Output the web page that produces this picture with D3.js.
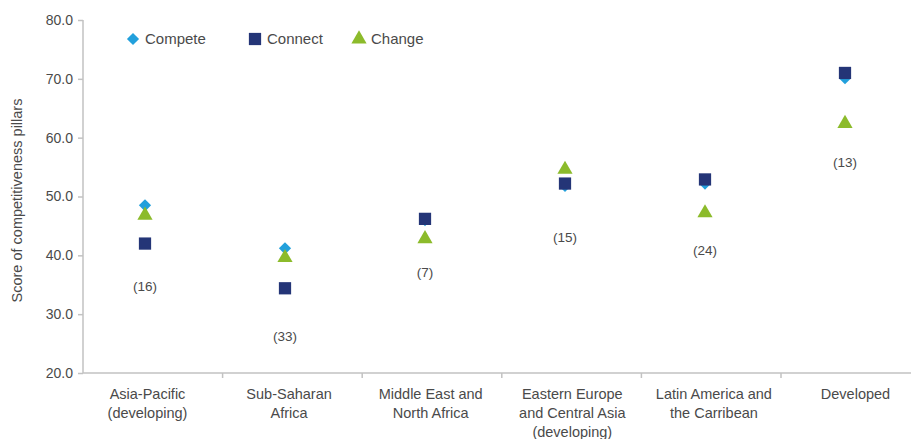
<!DOCTYPE html>
<html>
<head>
<meta charset="utf-8">
<script src="https://cdn.jsdelivr.net/npm/d3@7"></script>
<style>
  body { margin: 0; background: #fff; }
  svg text { font-family: "Liberation Sans", Arial, sans-serif; }
</style>
</head>
<body>
<div id="vis"></div>
<script>
// region data
const categories = [
  ["Asia-Pacific", "(developing)"],
  ["Sub-Saharan", "Africa"],
  ["Middle East and", "North Africa"],
  ["Eastern Europe", "and Central Asia", "(developing)"],
  ["Latin America and", "the Carribean"],
  ["Developed"]
]
const compete = [48.5, 41.2, 46.0, 51.8, 52.2, 70.1]
const connect = [42.0, 34.4, 46.2, 52.2, 52.9, 71.0]
const change = [46.8, 39.6, 42.8, 54.6, 47.2, 62.4]
const counts = ["(16)", "(33)", "(7)", "(15)", "(24)", "(13)"]
const countPos = [34.7, 26.3, 37.2, 43.1, 40.9, 55.9]
const yTicks = [20, 30, 40, 50, 60, 70, 80]

const W = 911, H = 439
const margin = { left: 83, top: 20, bottom: 66 }

const svg = d3.select("#vis").append("svg")
  .attr("width", W)
  .attr("height", H)

const keys = categories.map((d, i) => i)

const y = d3.scaleLinear().domain([20, 80]).range([373, 20])
const xBand = d3.scaleBand().domain(keys).range([83, 83 + 6 * 139.6])
const xMark = d3.scalePoint().domain(keys).range([145, 845])
const xLab = d3.scalePoint().domain(keys).range([147.5, 855.5])

const axisCol = "#c2c2c2"
const textCol = "#4a4a4a"

// y axis
const yAxis = svg.append("g")
  .attr("transform", `translate(${margin.left},0)`)
  .call(d3.axisLeft(y).tickValues(yTicks).tickFormat(d3.format(".1f")).tickSize(5).tickPadding(5))
yAxis.selectAll("path, line").attr("stroke", axisCol).attr("stroke-width", 1.5)
yAxis.select(".domain").attr("d", `M0,${y(80)}V${y(20)}`)
yAxis.selectAll("text")
  .attr("fill", textCol)
  .style("font-size", "14px")

// x axis (ticks at band edges)
const xg = svg.append("g").attr("transform", `translate(0,${y(20)})`)
xg.append("line")
  .attr("x1", 83).attr("x2", W)
  .attr("stroke", axisCol).attr("stroke-width", 1.5)
xg.selectAll("line.tick")
  .data(keys.slice(1))
  .enter().append("line")
  .attr("class", "tick")
  .attr("x1", d => xBand(d)).attr("x2", d => xBand(d))
  .attr("y1", 0).attr("y2", 5)
  .attr("stroke", axisCol).attr("stroke-width", 1.5)

const labs = xg.selectAll("text.cat")
  .data(keys)
  .enter().append("text")
  .attr("class", "cat")
  .attr("text-anchor", "middle")
  .attr("fill", textCol)
  .style("font-size", "14.5px")
labs.each(function(d) {
  const t = d3.select(this)
  categories[d].forEach((line, j) => {
    t.append("tspan")
      .attr("x", xLab(d))
      .attr("y", 26 + j * 19)
      .text(line)
  })
})

// y axis title
svg.append("text")
  .attr("transform", `translate(22,${y(50) + 4}) rotate(-90)`)
  .attr("text-anchor", "middle")
  .attr("fill", textCol)
  .style("font-size", "14.5px")
  .text("Score of competitiveness pillars")

// markers
const colCompete = "#22a0dc"
const colConnect = "#243577"
const colChange = "#8cbb2b"

const sym = {
  compete: d3.symbol().type(d3.symbolDiamond2).size(95),
  connect: d3.symbol().type(d3.symbolSquare).size(150),
  change: d3.symbol().type(d3.symbolTriangle).size(100)
}

function drawSeries(vals, path, color) {
  svg.append("g").selectAll("path")
    .data(vals)
    .enter().append("path")
    .attr("d", path)
    .attr("transform", (d, i) => `translate(${xMark(i)},${y(d)})`)
    .attr("fill", color)
}
drawSeries(compete, sym.compete, colCompete)
drawSeries(connect, sym.connect, colConnect)
drawSeries(change, sym.change, colChange)

// country counts
svg.append("g").selectAll("text")
  .data(counts)
  .enter().append("text")
  .attr("x", (d, i) => xMark(i))
  .attr("y", (d, i) => y(countPos[i]))
  .attr("dy", "0.35em")
  .attr("text-anchor", "middle")
  .attr("fill", textCol)
  .style("font-size", "13.5px")
  .text(d => d)

// legend
const legendItems = [
  { name: "Compete", path: sym.compete, color: colCompete, x: 133 },
  { name: "Connect", path: sym.connect, color: colConnect, x: 255 },
  { name: "Change", path: sym.change, color: colChange, x: 359 }
]
const lg = svg.append("g").attr("transform", "translate(0,39)")
lg.selectAll("path")
  .data(legendItems)
  .enter().append("path")
  .attr("d", d => d.path())
  .attr("transform", d => `translate(${d.x},0)`)
  .attr("fill", d => d.color)
lg.selectAll("text")
  .data(legendItems)
  .enter().append("text")
  .attr("x", d => d.x + 12)
  .attr("dy", "0.35em")
  .attr("fill", textCol)
  .style("font-size", "15px")
  .text(d => d.name)
</script>
</body>
</html>
